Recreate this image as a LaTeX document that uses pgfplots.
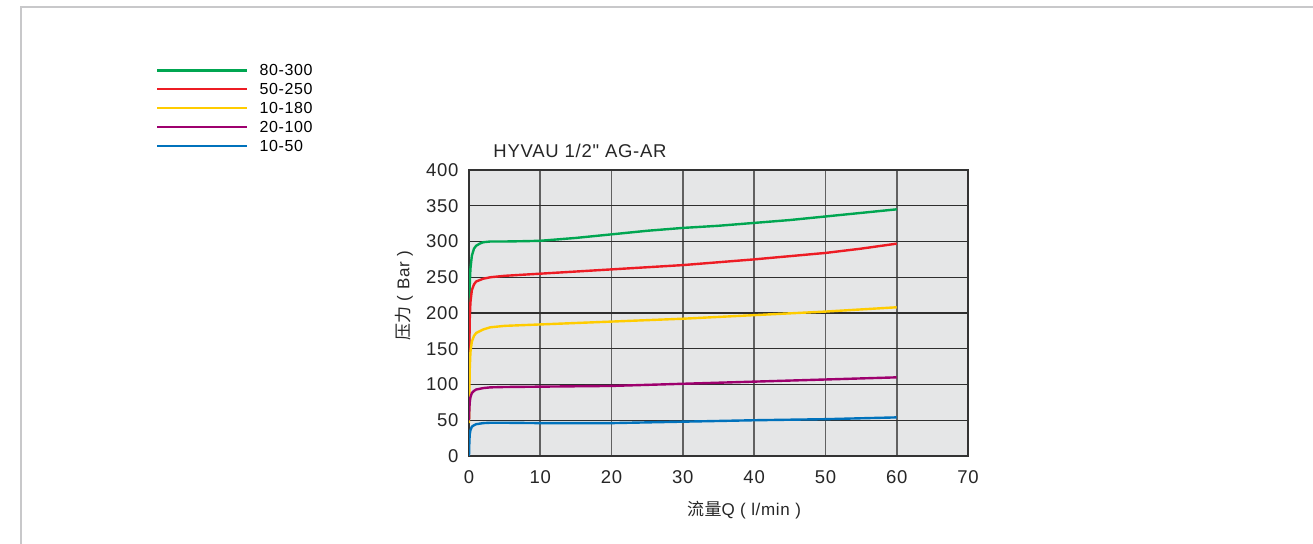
\documentclass[border=0pt]{standalone}
\usepackage{pgfplots}
\pgfplotsset{compat=1.18}
\usepackage{fontspec}
\setmainfont{Liberation Sans}[LetterSpace=4, Ligatures=TeXOff]
\newfontfamily\cjk{Noto Sans CJK SC}[LetterSpace=3]
\definecolor{cgreen}{RGB}{0,166,81}
\definecolor{cred}{RGB}{237,28,36}
\definecolor{cyellow}{RGB}{255,204,0}
\definecolor{cpurple}{RGB}{158,0,110}
\definecolor{cblue}{RGB}{0,114,188}
\definecolor{bgc}{RGB}{229,230,231}
\definecolor{framec}{RGB}{200,200,202}
\begin{document}
\begin{tikzpicture}
\path[use as bounding box] (0,0) rectangle (1313bp,544bp);
\draw[framec, line width=2.2bp] (21bp,0) -- (21bp,537bp) -- (1313bp,537bp);
\begin{axis}[
  at={(469bp,88bp)}, anchor=south west,
  scale only axis, width=499bp, height=286bp,
  xmin=0, xmax=70, ymin=0, ymax=400,
  xtick={0,10,...,70}, ytick={0,50,...,400},
  major tick length=0pt,
  xmajorgrids, ymajorgrids,
  x grid style={black!62, line width=1.8bp},
  y grid style={black!82, line width=1.2bp},
  axis line style={black!80, line width=1.2bp},
  axis background/.style={fill=bgc},
  tick label style={font=\fontsize{18.5bp}{21bp}\selectfont, text=black!85},
  /pgf/number format/assume math mode=true,
  xticklabel style={yshift=-11bp},
  yticklabel style={xshift=-7bp},
  legend style={at={(-0.627,1.378)}, anchor=north west, draw=none, fill=none,
    font=\fontsize{16bp}{19bp}\selectfont, row sep=2.3bp, inner xsep=0pt, inner ysep=0pt},
  legend cell align=left,
  legend image code/.code={\draw[#1, line width=2.2bp] (0bp,0bp) -- (90bp,0bp);},
]
\addplot[cgreen, line width=2.4bp] coordinates {(0,145) (0.05,200) (0.1,238) (0.2,262) (0.4,280) (0.7,290) (1,294) (1.5,297) (2,299) (3,300) (5,300) (8,300.5) (10,301) (15,305) (20,310) (25,315) (30,319) (35,322) (40,326) (45,330) (50,335) (55,340) (60,345)};
\addlegendentry{\hspace{9bp}80-300}
\addplot[cred, line width=2.4bp] coordinates {(0,96) (0.05,150) (0.1,190) (0.2,215) (0.4,232) (0.7,240) (1,244) (2,248) (3,250) (5,252) (10,255) (20,261) (30,267) (40,275) (50,284) (55,290) (60,297)};
\addlegendentry{\hspace{9bp}50-250}
\addplot[cyellow, line width=2.4bp] coordinates {(0,46) (0.05,90) (0.1,120) (0.2,145) (0.4,160) (0.7,168) (1,172) (2,177) (3,180) (5,182) (10,184) (20,188) (30,192) (40,197) (50,202) (60,208)};
\addlegendentry{\hspace{9bp}10-180}
\addplot[cpurple, line width=2.4bp] coordinates {(0,50) (0.05,65) (0.1,75) (0.2,82) (0.4,88) (0.7,91) (1,93) (2,95) (3,96) (5,96.5) (10,97) (20,98) (30,101) (40,104) (50,107) (60,110)};
\addlegendentry{\hspace{9bp}20-100}
\addplot[cblue, line width=2.4bp] coordinates {(0,0) (0.05,20) (0.1,30) (0.2,36) (0.4,41) (0.7,43) (1,44.5) (2,46) (3,46.5) (5,46.5) (10,46) (20,46) (30,48) (40,50) (50,51.5) (60,54)};
\addlegendentry{\hspace{9bp}10-50}
\end{axis}
\node[font=\fontsize{18.5bp}{21bp}\selectfont, text=black!85] at (580bp,393bp) {HYVAU 1/2" AG-AR};
\node[font=\fontsize{17bp}{20bp}\selectfont, text=black!85, rotate=90] at (404bp,248bp) {{\cjk 压力} ( Bar )};
\node[font=\fontsize{17bp}{20bp}\selectfont, text=black!85] at (744bp,34bp) {{\cjk 流量}Q ( l/min )};
\end{tikzpicture}
\end{document}
